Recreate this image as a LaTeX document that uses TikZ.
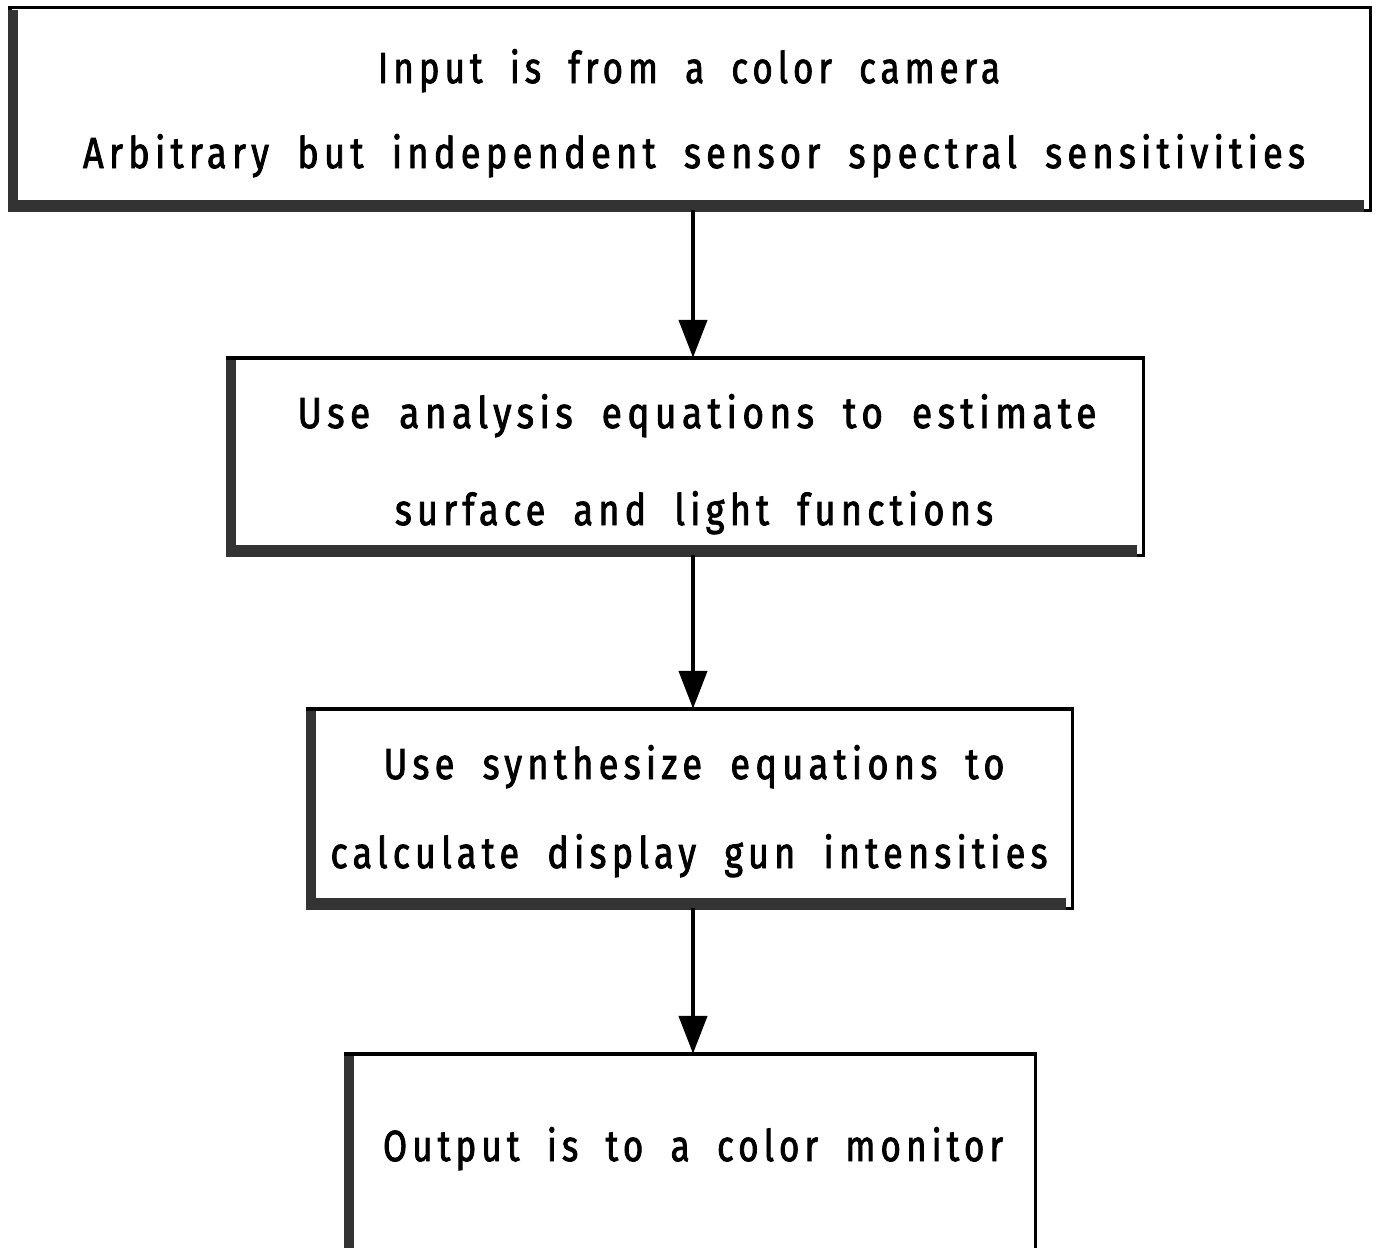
\documentclass[tikz,border=0pt]{standalone}
\usepackage{fontspec}
\usepackage{graphicx}
\usetikzlibrary{arrows.meta}
\newfontfamily\lettering{Fira Sans}[FakeStretch=0.88,LetterSpace=13,WordSpace=1.9,FakeBold=2]
\newcommand\fitline[2]{\resizebox{#1pt}{\height}{#2}}
\tikzset{
  boxnode/.style={draw=black, line width=3.5pt, rectangle, inner sep=0pt, outer sep=0pt, fill=none},
  shadowstrip/.style={fill=black!80},
  txt/.style={anchor=base, inner sep=0pt, outer sep=0pt, font=\lettering\fontsize{43.5}{50}\selectfont},
  flowarrow/.style={draw=black, line width=4.5pt, -{Triangle[width=28pt,length=38pt]}}
}
\newcommand\flowbox[5]{%
  \node[boxnode, minimum width={#4-#2-3.5}, minimum height={#5-#3-3.5}] (#1) at ({(#2+#4)/2},{(#3+#5)/2}) {};
  \fill[shadowstrip] (#2,#3+4) rectangle (#2+10,#5);
  \fill[shadowstrip] (#2,#5-12) rectangle (#4-8,#5);
}
\begin{document}
\begin{tikzpicture}[x=1pt,y=-1pt]
\clip (0,0) rectangle (1380,1247);
\fill[white] (0,0) rectangle (1380,1247);
\flowbox{b1}{8}{6}{1372}{212}
\flowbox{b2}{226}{356}{1145}{557}
\flowbox{b3}{306}{707}{1074}{910}
\flowbox{b4}{344}{1052}{1037}{1275}
\node[txt] (t1) at (689,83) {\fitline{622}{Input is from a color camera}};
\node[txt] (t2) at (694,168) {\fitline{1222}{Arbitrary but independent sensor spectral sensitivities}};
\node[txt] (t3) at (697,428) {\fitline{799}{Use analysis equations to estimate}};
\node[txt] (t4) at (694,525) {\fitline{598}{surface and light functions}};
\node[txt] (t5) at (694,779) {\fitline{621}{Use synthesize equations to}};
\node[txt] (t6) at (689,868) {\fitline{717}{calculate display gun intensities}};
\node[txt] (t7) at (693,1161) {\fitline{620}{Output is to a color monitor}};
\coordinate (ax) at (693,0);
\draw[flowarrow] (b1.south -| ax) -- (b2.north -| ax);
\draw[flowarrow] (b2.south -| ax) -- (b3.north -| ax);
\draw[flowarrow] (b3.south -| ax) -- (b4.north -| ax);
\end{tikzpicture}
\end{document}
